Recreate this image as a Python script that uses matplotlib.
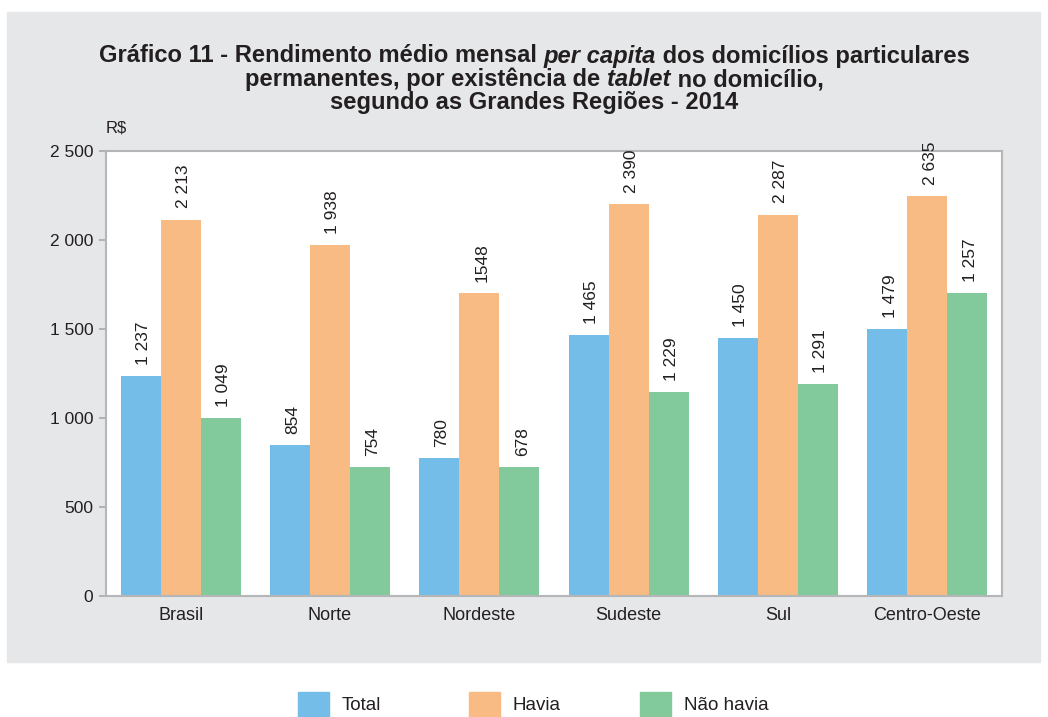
import numpy as np
import matplotlib.pyplot as plt
from matplotlib.patches import Rectangle

plt.rcParams['font.family'] = ['Liberation Sans', 'DejaVu Sans']

regions = ['Brasil', 'Norte', 'Nordeste', 'Sudeste', 'Sul', 'Centro-Oeste']
series = ['Total', 'Havia', 'Não havia']
# bar heights as drawn in the picture
total = [1237, 848, 775, 1468, 1451, 1502]
havia = [2115, 1974, 1704, 2200, 2143, 2245]
nao_havia = [1000, 725, 725, 1147, 1192, 1704]
# printed value labels
total_lbl = ['1 237', '854', '780', '1 465', '1 450', '1 479']
havia_lbl = ['2 213', '1 938', '1548', '2 390', '2 287', '2 635']
nao_havia_lbl = ['1 049', '754', '678', '1 229', '1 291', '1 257']
yticks = [0, 500, 1000, 1500, 2000, 2500]
ytick_lbl = ['0', '500', '1 000', '1 500', '2 000', '2 500']

colors = ['#74BDE8', '#F9BB84', '#82CA9C']
txt_col = '#231F20'
W, H = 1048, 717

fig = plt.figure(figsize=(W / 100, H / 100), dpi=100)
fig.patches.append(Rectangle((7 / W, 1 - 662 / H), 1033 / W, 650 / H,
                             transform=fig.transFigure, color='#E6E7E9', zorder=-10))

ax = fig.add_axes([106 / W, 1 - 596 / H, 896 / W, 445 / H])
x = np.arange(len(regions))
bw = 0.268
for i, (vals, lbls) in enumerate([(total, total_lbl), (havia, havia_lbl), (nao_havia, nao_havia_lbl)]):
    pos = x + (i - 1) * bw
    ax.bar(pos, vals, bw, color=colors[i], label=series[i], zorder=2)
    for px, v, l in zip(pos, vals, lbls):
        ax.annotate(l, (px, v), xytext=(2, 8), textcoords='offset points',
                    rotation=90, ha='center', va='bottom', fontsize=12.5, color=txt_col)

ax.set_xlim(-0.5, 5.5)
ax.set_ylim(0, 2500)
ax.set_yticks(yticks)
ax.set_yticklabels(ytick_lbl)
ax.set_xticks(x)
ax.set_xticklabels(regions)
ax.tick_params(axis='y', length=5, width=1.2, color='#A7A9AC', labelsize=12.5, labelcolor=txt_col, pad=4)
ax.tick_params(axis='x', length=0, labelsize=13, labelcolor=txt_col, pad=8)
for s in ax.spines.values():
    s.set_color('#B5B6B8')
    s.set_linewidth(1.5)
ax.text(0, 1.035, 'R$', transform=ax.transAxes, fontsize=12, color=txt_col, ha='left', va='bottom')

# title with italic words
title_lines = [
    [('Gráfico 11 - Rendimento médio mensal ', 'normal'), ('per capita', 'italic'),
     (' dos domicílios particulares', 'normal')],
    [('permanentes, por existência de ', 'normal'), ('tablet', 'italic'), (' no domicílio,', 'normal')],
    [('segundo as Grandes Regiões - 2014', 'normal')],
]
renderer = fig.canvas.get_renderer()
cx = 534.5
for k, line in enumerate(title_lines):
    y = 1 - (56 + k * 23.5) / H
    parts = []
    for s, st in line:
        t = fig.text(0, y, s, fontsize=17.1, fontweight='bold', style=st,
                     color=txt_col, va='center', ha='left')
        parts.append(t)
    widths = [p.get_window_extent(renderer).width for p in parts]
    start = cx - sum(widths) / 2
    for p, w in zip(parts, widths):
        p.set_x(start / W)
        start += w

# legend
leg_x = [298, 469, 640]
for lx, c, name in zip(leg_x, colors, series):
    fig.patches.append(Rectangle((lx / W, 1 - 717 / H), 31 / W, 25 / H,
                                 transform=fig.transFigure, color=c))
    fig.text((lx + 44) / W, 1 - 706 / H, name, fontsize=13.5, color=txt_col,
             ha='left', va='center')

fig.savefig('out.png', dpi=100)
